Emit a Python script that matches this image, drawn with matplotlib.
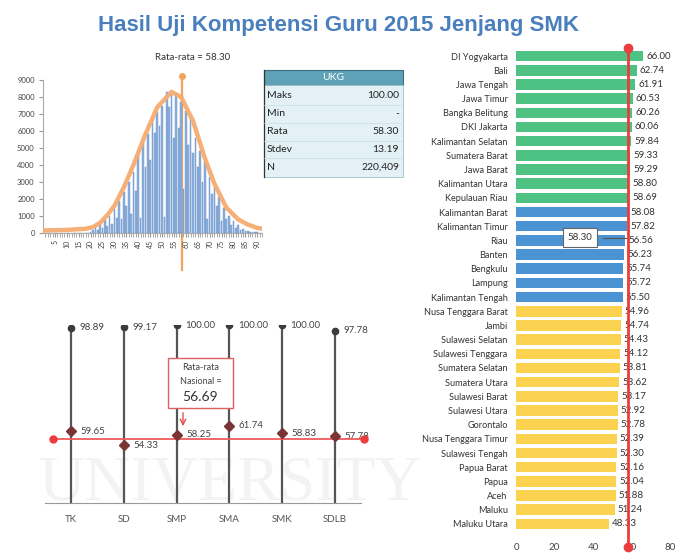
import matplotlib.pyplot as plt
import numpy as np
from matplotlib.patches import Rectangle

plt.rcParams['font.family'] = ['Lato', 'DejaVu Sans']

W, H = 676, 554

# --- histogram data (score -> number of teachers)
hist_counts = [0, 0, 0, 0, 0, 0, 0, 0, 0, 0, 0, 0, 0, 0, 0, 0, 0, 0, 0,
               80, 150, 350, 200, 550, 300, 750, 400, 1000, 550, 1400,
               900, 1900, 800, 2400, 1600, 3000, 1100, 3600, 2500, 4600,
               900, 5300, 3900, 5800, 4300, 6700, 5900, 7100, 6300, 7500,
               950, 8300, 7400, 8100, 5600, 8200, 6200, 7700, 2600, 7200,
               5200, 6800, 4700, 5600, 3900, 4800, 3000, 4200, 800, 3300,
               2300, 2700, 1600, 2100, 700, 1500, 800, 1000, 450, 700,
               300, 450, 150, 250, 100, 120, 50, 60, 30, 40, 10, 10]
hist_scores = np.arange(1, len(hist_counts) + 1)
curve_x = [0, 10, 18, 21, 24, 27, 30, 34, 38, 43, 48, 54, 58, 63, 68, 72, 77, 82, 86, 90, 92]
curve_y = [150, 180, 250, 350, 600, 1050, 1600, 2700, 4000, 5800, 7400, 8300, 8000,
           6600, 4400, 2900, 1500, 800, 500, 300, 250]
mean_ukg = 58.30

ukg_rows = ['Maks', 'Min', 'Rata', 'Stdev', 'N']
ukg_vals = ['100.00', '-', '58.30', '13.19', '220,409']

# --- province ranking
provinces = ['DI Yogyakarta', 'Bali', 'Jawa Tengah', 'Jawa Timur', 'Bangka Belitung',
             'DKI Jakarta', 'Kalimantan Selatan', 'Sumatera Barat', 'Jawa Barat',
             'Kalimantan Utara', 'Kepulauan Riau', 'Kalimantan Barat', 'Kalimantan Timur',
             'Riau', 'Banten', 'Bengkulu', 'Lampung', 'Kalimantan Tengah',
             'Nusa Tenggara Barat', 'Jambi', 'Sulawesi Selatan', 'Sulawesi Tenggara',
             'Sumatera Selatan', 'Sumatera Utara', 'Sulawesi Barat', 'Sulawesi Utara',
             'Gorontalo', 'Nusa Tenggara Timur', 'Sulawesi Tengah', 'Papua Barat',
             'Papua', 'Aceh', 'Maluku', 'Maluku Utara']
prov_scores = [66.00, 62.74, 61.91, 60.53, 60.26, 60.06, 59.84, 59.33, 59.29, 58.80,
               58.69, 58.08, 57.82, 56.56, 56.23, 55.74, 55.72, 55.50, 54.96, 54.74,
               54.43, 54.12, 53.81, 53.62, 53.17, 52.92, 52.78, 52.39, 52.30, 52.16,
               52.04, 51.88, 51.24, 48.33]
prov_group = ['hi'] * 11 + ['mid'] * 7 + ['lo'] * 16
group_color = {'hi': '#4dc283', 'mid': '#4b93d2', 'lo': '#fbd150'}

# --- per level (jenjang)
levels = ['TK', 'SD', 'SMP', 'SMA', 'SMK', 'SDLB']
level_min = [0, 0, 0, 0, 0, 0]
level_max = [98.89, 99.17, 100.00, 100.00, 100.00, 97.78]
level_mean = [59.65, 54.33, 58.25, 61.74, 58.83, 57.78]
national_mean = 56.69


def box(x0, y0, x1, y1):
    # pixel box -> figure fraction rect
    return [x0 / W, 1 - y1 / H, (x1 - x0) / W, (y1 - y0) / H]


fig = plt.figure(figsize=(W / 100, H / 100), dpi=100)
fig.patch.set_facecolor('white')

# background layer (faint watermark), pixel coords
bg = fig.add_axes([0, 0, 1, 1], zorder=-5)
bg.set_xlim(0, W)
bg.set_ylim(H, 0)
bg.axis('off')
bg.text(230, 485, 'UNIVERSITY', fontsize=46, family='Liberation Serif', color='#f3f3f3',
        ha='center', va='center')

fig.text(0.5, 1 - 25 / H, 'Hasil Uji Kompetensi Guru 2015 Jenjang SMK', family='Liberation Sans',
         fontsize=16, fontweight='bold', color='#4a7fbd', ha='center', va='center')

# ---------------- histogram
ax1 = fig.add_axes(box(43, 80, 262, 233))
ax1.set_facecolor('none')
ax1.bar(hist_scores, hist_counts, width=0.7, color='#8eb1dd', edgecolor='#6690c9',
        linewidth=0.3, zorder=2)
ax1.plot(curve_x, curve_y, color='#f6ac70', lw=3.2, alpha=0.95, zorder=3,
         solid_capstyle='round', solid_joinstyle='round')
ax1.plot([mean_ukg, mean_ukg], [9250, -2200], color='#f2a35e', lw=1.6, zorder=1, clip_on=False)
ax1.plot([mean_ukg], [9250], 'o', color='#f2a35e', ms=4, clip_on=False, zorder=1)
ax1.text(63, 10300, 'Rata-rata = 58.30', fontsize=7, color='#333333', ha='center', va='center')
ax1.set_xlim(0, 92)
ax1.set_ylim(0, 9000)
ax1.set_yticks(range(0, 9001, 1000))
ax1.set_yticklabels([str(v) for v in range(0, 9001, 1000)], fontsize=5.5, color='#444444')
ax1.set_xticks(range(5, 91, 5))
ax1.set_xticklabels([str(v) for v in range(5, 91, 5)], fontsize=5, rotation=90, color='#444444')
ax1.set_xticks(range(1, 93), minor=True)
ax1.tick_params(axis='x', which='both', length=3, color='#999999', pad=2)
ax1.tick_params(axis='y', length=3, color='#999999', pad=3)
for s in ['top', 'right']:
    ax1.spines[s].set_visible(False)
for s in ['left', 'bottom']:
    ax1.spines[s].set_color('#aaaaaa')

# ---------------- UKG table (pixel coords)
fg = fig.add_axes([0, 0, 1, 1], zorder=10)
fg.set_xlim(0, W)
fg.set_ylim(H, 0)
fg.axis('off')
fg.add_patch(Rectangle((264, 70), 139, 15, facecolor='#5fa1b6', edgecolor='#3d6f80', lw=0.8))
fg.text(333, 77.5, 'UKG', fontsize=7.5, color='white', ha='center', va='center')
fg.add_patch(Rectangle((264, 85), 139, 92, facecolor='#e3f1f6', edgecolor='#9fbfcc', lw=0.6))
fg.plot([264, 264], [70, 177], color='#333333', lw=0.9)
for i, (r, v) in enumerate(zip(ukg_rows, ukg_vals)):
    yy = 96 + i * 17.8
    fg.text(267, yy, r, fontsize=7.5, color='#222222', ha='left', va='center')
    fg.text(399, yy, v, fontsize=7.5, color='#222222', ha='right', va='center')
    if i > 0:
        fg.plot([264, 403], [yy - 8.9, yy - 8.9], color='#c9dde5', lw=0.5)

# ---------------- province bars
ax2 = fig.add_axes(box(516, 49, 670, 531))
ax2.set_facecolor('none')
ypos = np.arange(len(provinces))
ax2.barh(ypos, prov_scores, height=0.74, color=[group_color[g] for g in prov_group], zorder=2)
for y, v in zip(ypos, prov_scores):
    ax2.text(v + 1.6, y, f'{v:.2f}', fontsize=7, color='#333333', va='center', ha='left', zorder=3)
ax2.plot([mean_ukg, mean_ukg], [-0.57, 34.6], color='#ea3d3d', lw=2, clip_on=False, zorder=5)
ax2.plot([mean_ukg, mean_ukg], [-0.57, 34.6], 'o', color='#ea3d3d', ms=6, clip_on=False, zorder=5)
ax2.plot([45, mean_ukg], [12.8, 12.8], color='#555555', lw=0.8, zorder=4)
ax2.text(33.2, 12.8, '58.30', fontsize=7, color='#333333', ha='center', va='center', zorder=6,
         bbox=dict(boxstyle='square,pad=0.5', facecolor='white', edgecolor='#666666', lw=0.8))
ax2.set_xlim(0, 80)
ax2.set_ylim(len(provinces) - 0.5, -0.5)
ax2.set_yticks(ypos)
ax2.set_yticklabels(provinces, fontsize=6.6, color='#333333')
ax2.set_xticks([0, 20, 40, 60, 80])
ax2.tick_params(axis='y', length=0, pad=6)
ax2.tick_params(axis='x', length=0, pad=9, labelsize=7, labelcolor='#444444')
for s in ax2.spines.values():
    s.set_visible(False)

# ---------------- high / mean per level
ax3 = fig.add_axes(box(45, 325, 361, 503))
ax3.set_facecolor('none')
xl = np.arange(len(levels))
ax3.vlines(xl, level_min, level_max, color='#555555', lw=1.6, zorder=2)
ax3.plot(xl, level_max, 'o', color='#3c3c3c', ms=4.5, zorder=3)
ax3.plot(xl, level_mean, 'D', color='#7a3434', ms=5, zorder=4)
for x, mx, mn in zip(xl, level_max, level_mean):
    ax3.text(x + 0.16, mx, f'{mx:.2f}', fontsize=7, color='#444444', va='center', ha='left',
             clip_on=False)
    ax3.text(x + 0.18, mn, f'{mn:.2f}', fontsize=7, color='#444444', va='center', ha='left')
ax3.plot([-0.35, 5.55], [national_mean, national_mean], color='#ee5a5a', lw=1.3, zorder=3,
         clip_on=False)
ax3.plot([-0.35, 5.55], [national_mean, national_mean], 'o', color='#ee3b3b', ms=5, zorder=5,
         clip_on=False)
ax3.set_xlim(-0.5, 5.5)
ax3.set_ylim(32.3, 100)
ax3.set_yticks([])
ax3.set_xticks(xl)
ax3.set_xticklabels(levels, fontsize=7, color='#555555')
ax3.tick_params(axis='x', length=0, pad=9)
for s in ['top', 'right', 'left']:
    ax3.spines[s].set_visible(False)
ax3.spines['bottom'].set_color('#999999')

# callout for the national average
fg.add_patch(Rectangle((168, 358), 65, 50, facecolor='white', edgecolor='#e06060', lw=1))
fg.text(200.5, 368, 'Rata-rata', fontsize=6.5, color='#444444', ha='center', va='center')
fg.text(200.5, 381, 'Nasional =', fontsize=6.5, color='#444444', ha='center', va='center')
fg.text(200.5, 397, '56.69', fontsize=10, color='#333333', ha='center', va='center')
fg.annotate('', xy=(183, 429), xytext=(183, 410),
            arrowprops=dict(arrowstyle='->', color='#e05050', lw=1))

fig.savefig('out.png', dpi=100, facecolor='white')
